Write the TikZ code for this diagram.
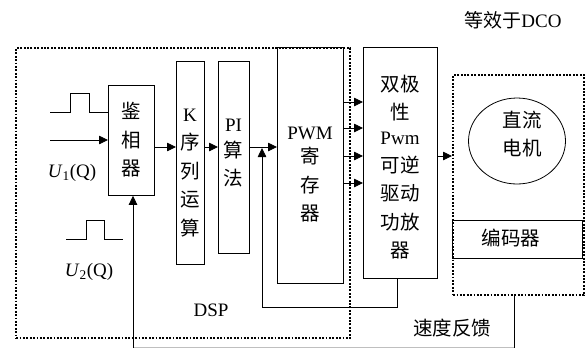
\documentclass[tikz,border=0pt]{standalone}
\usepackage{fontspec}
\setmainfont{Liberation Serif}
\newfontfamily\cjk{Noto Sans CJK SC}
\usetikzlibrary{arrows.meta,shapes.geometric}
\begin{document}
\begin{tikzpicture}[x=1pt,y=-1pt,
  box/.style={draw, line width=0.8pt, inner sep=0pt, anchor=north west},
  dotbox/.style={draw, line width=2.3pt, dash pattern=on 1.9pt off 1.5pt, line cap=butt, inner sep=0pt, anchor=north west},
  arr/.style={line width=0.8pt, -{Triangle[length=9pt,width=8.5pt]}},
  ln/.style={line width=0.8pt},
  lbl/.style={inner sep=0pt, align=center, font=\fontsize{19pt}{28pt}\selectfont},
  cj/.style={inner sep=0pt, align=center, font=\fontsize{19.5pt}{28.5pt}\selectfont\cjk}]
\useasboundingbox (0,0) rectangle (588,349);
% dotted frames
\node[dotbox, minimum width=334pt, minimum height=290pt] (dsp) at (15,47) {};
\node[dotbox, minimum width=131pt, minimum height=220pt] (dco) at (452,74) {};
% blocks
\node[box, minimum width=46pt, minimum height=110pt] (jx) at (108,85) {};
\node[box, minimum width=28pt, minimum height=203pt] (ks) at (176,61) {};
\node[box, minimum width=31pt, minimum height=192pt] (pi) at (218,61) {};
\node[box, minimum width=66pt, minimum height=236pt] (pwm) at (277,47) {};
\node[box, minimum width=74pt, minimum height=231pt] (bp) at (363,47) {};
\node[box, minimum width=130pt, minimum height=38pt] (enc) at (452,220) {};
\node[draw, line width=0.8pt, ellipse, minimum width=97pt, minimum height=86pt, inner sep=0pt] (motor) at (517,141) {};
% texts in blocks
\node[cj] (tjx) at (131,140) {鉴\\相\\器};
\node[lbl] (tks1) at (190,115) {K};
\node[cj] (tks2) at (190,185) {序\\列\\运\\算};
\node[lbl] (tpi1) at (233.5,125) {PI};
\node[cj] (tpi2) at (233.5,164) {算\\法};
\node[lbl] (tpwm1) at (310,133) {PWM};
\node[cj] (tpwm2) at (310,185) {寄\\存\\器};
\node[cj] (tbp1) at (400,98) {双极\\性};
\node[lbl] (tbp2) at (400,138) {Pwm};
\node[cj] (tbp3) at (400,207.5) {可逆\\驱动\\功放\\器};
\node[cj] (tmot) at (522,134) {直流\\电机};
\node[cj] (tenc) at (511,238) {编码器};
% labels
\node[lbl] (tdco) at (513,20) {{\cjk 等效于}DCO};
\node[lbl] (tdsp) at (211,310) {DSP};
\node[cj] (tspd) at (452,328) {速度反馈};
\node[lbl] (tu1) at (72,173) {\textit{U}\textsubscript{1}(Q)};
\node[lbl] (tu2) at (89,272) {\textit{U}\textsubscript{2}(Q)};
% signals
\coordinate (r) at (0,147);
\coordinate (in1) at (50,140);
\draw[arr] (in1) -- (jx.west |- in1);
\draw[ln] (50,112) -- (70,112) -- (70,93) -- (89,93) -- (89,112) -- (jx.west |- 0,112);
\draw[ln] (66,239) -- (86,239) -- (86,220) -- (104,220) -- (104,239) -- (123,239);
\draw[arr] (jx.east |- r) -- (ks.west |- r);
\draw[arr] (ks.east |- r) -- (pi.west |- r);
\draw[arr] (pi.east |- r) -- (pwm.west |- r);
\coordinate (fb) at (262,307);
\draw[arr] ([xshift=-3pt]bp.south) |- (fb) -- (262,148);
\foreach \yy in {102,128,156,183}
  \draw[arr] (pwm.east |- 0,\yy) -- (bp.west |- 0,\yy);
\draw[arr] (bp.east |- 0,156) -- (dco.west |- 0,156);
% speed feedback
\coordinate (s1) at (514,347.5);
\coordinate (s2) at (133,347.5);
\draw[ln] (dco.south -| s1) -- (s1);
\draw[ln, gray!50] (s1) -- (s2);
\draw[arr] (s2) -- (s2 |- jx.south);
\end{tikzpicture}
\end{document}
